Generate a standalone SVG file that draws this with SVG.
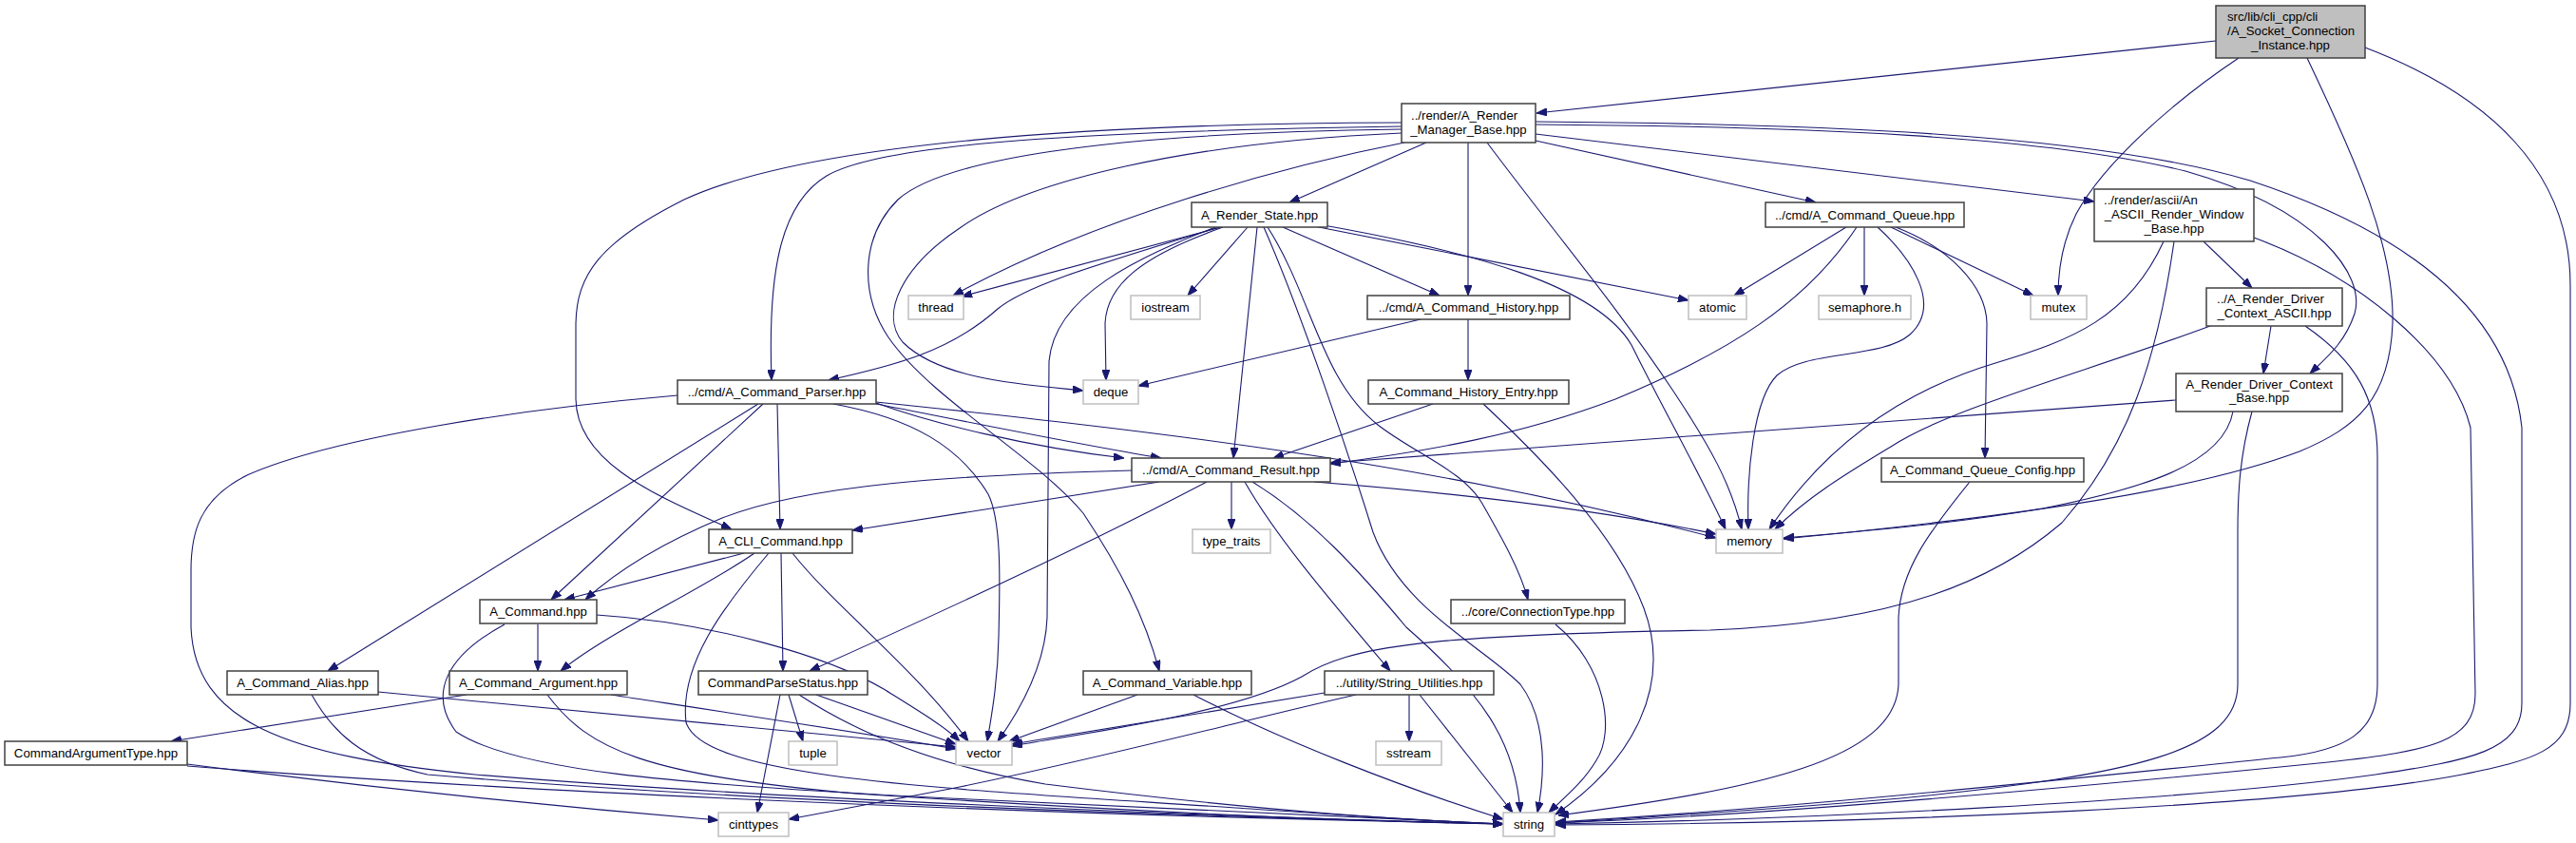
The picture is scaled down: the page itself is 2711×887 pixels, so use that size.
<svg xmlns="http://www.w3.org/2000/svg" width="2711" height="887" viewBox="0 0 2711 887">
<defs>
<marker id="a" viewBox="0 0 11 8" refX="11" refY="4" markerWidth="11" markerHeight="8" markerUnits="userSpaceOnUse" orient="auto"><path d="M0,0 L11,4 L0,8 z" fill="#191970" stroke="#191970" stroke-width="1"/></marker>
<style>
.n rect{fill:#fff;stroke:#404040;stroke-width:1.5}
.r rect{fill:#bfbfbf;stroke:#404040;stroke-width:1.5}
.x rect{fill:#fff;stroke:#bfbfbf;stroke-width:1.5}
text{font-family:"Liberation Sans",Arial,Helvetica,sans-serif;font-size:13.2px;fill:#000;text-anchor:middle}
text.s{text-anchor:start}
#edges path{fill:none;stroke:#191970;stroke-width:1.1;marker-end:url(#a)}
</style>
</defs>
<rect width="2711" height="887" fill="#fff"/>
<g id="edges">
<path d="M2332,43 L1617,119"/>
<path d="M2356,61 C2290,105 2215,170 2185,225 C2170,255 2166,285 2166,311"/>
<path d="M2428,61 C2480,170 2520,260 2518,340 C2515,420 2480,450 2420,475 C2300,520 2100,545 1877,567"/>
<path d="M2489,50 C2620,100 2705,180 2705,300 L2705,740 C2705,790 2665,800 2591,815 C2420,848 2000,866 1637,868"/>
<path d="M1501,150 L1357,213"/>
<path d="M1545,150 L1545,311"/>
<path d="M1565,150 C1640,250 1700,320 1760,410 C1800,470 1822,510 1833,557"/>
<path d="M1616,148 L1911,213"/>
<path d="M1616,141 L2204,212"/>
<path d="M1616,131 C1900,133 2150,143 2300,180 C2440,220 2490,290 2478,330 C2468,360 2450,375 2431,393"/>
<path d="M1616,128 C1900,130 2200,140 2368,190 C2520,240 2640,320 2654,450 L2654,740 C2654,790 2600,800 2500,815 C2300,843 1900,862 1637,867"/>
<path d="M1475,133 C1150,138 930,150 870,185 C820,215 808,290 812,400"/>
<path d="M1475,129 C1150,130 850,150 720,210 C630,255 607,290 606,340 L606,420 C607,490 700,525 770,557"/>
<path d="M1475,136 C1150,140 990,170 945,210 C905,250 905,310 935,355 C980,420 1090,480 1140,540 C1180,600 1205,650 1220,706"/>
<path d="M1475,140 C1250,150 1080,190 1010,240 C950,280 925,330 950,360 C990,400 1080,405 1140,411"/>
<path d="M1478,150 C1350,175 1150,230 1003,311"/>
<path d="M1285,239 L1012,312"/>
<path d="M1283,239 C1150,280 1080,300 1050,325 C1000,370 940,385 872,400"/>
<path d="M1287,239 C1200,270 1165,300 1163,340 L1164,400"/>
<path d="M1279,239 C1200,270 1110,310 1104,380 L1102,650 C1100,700 1075,745 1050,780"/>
<path d="M1313,239 L1250,311"/>
<path d="M1323,239 L1298,482"/>
<path d="M1330,239 C1370,330 1420,480 1445,560 C1475,640 1560,680 1600,720 C1630,760 1625,820 1618,855"/>
<path d="M1334,239 C1380,310 1390,400 1450,447 C1490,478 1540,495 1560,530 C1580,565 1600,600 1608,631"/>
<path d="M1350,239 L1515,311"/>
<path d="M1383,238 L1777,316"/>
<path d="M1393,237 C1550,265 1680,300 1717,363 C1750,430 1790,500 1816,557"/>
<path d="M1943,239 L1825,311"/>
<path d="M1962,239 L1962,311"/>
<path d="M1990,239 L2140,311"/>
<path d="M1976,239 C2010,270 2045,320 2010,352 C1980,378 1900,368 1870,395 C1845,420 1838,500 1840,557"/>
<path d="M1954,239 C1900,320 1820,370 1700,420 C1600,458 1500,475 1400,488"/>
<path d="M1995,239 C2050,260 2090,300 2091,340 L2089,482"/>
<path d="M2319,254 L2370,303"/>
<path d="M2277,254 C2240,335 2180,358 2100,382 C2000,412 1920,470 1862,557"/>
<path d="M2288,254 C2270,380 2240,470 2170,550 C2100,610 2000,655 1800,663 C1500,668 1420,680 1370,712 C1300,750 1150,770 1065,785"/>
<path d="M2372,250 C2480,290 2580,370 2600,450 L2605,730 C2605,780 2560,790 2450,802 C2250,822 1900,856 1637,866"/>
<path d="M2390,343 L2382,393"/>
<path d="M2326,343 C2200,390 2050,430 1990,470 C1940,500 1900,525 1868,557"/>
<path d="M2426,343 C2480,380 2502,420 2502,480 L2502,720 C2502,770 2470,790 2400,797 C2250,812 1900,850 1637,865"/>
<path d="M2290,421 L1400,487"/>
<path d="M2350,433 C2340,490 2250,515 2150,535 C2050,552 1950,560 1877,566"/>
<path d="M2370,433 C2357,480 2355,520 2355,560 L2355,720 C2355,790 2250,815 2000,840 C1850,853 1700,862 1637,866"/>
<path d="M1545,336 L1545,400"/>
<path d="M1495,336 L1198,406"/>
<path d="M1508,425 L1340,482"/>
<path d="M1561,425 C1620,480 1700,560 1730,640 C1760,720 1720,800 1637,857"/>
<path d="M798,425 L345,706"/>
<path d="M803,425 L580,631"/>
<path d="M818,425 L821,557"/>
<path d="M877,425 C960,440 1010,470 1040,520 C1055,550 1052,620 1051,670 C1050,720 1043,755 1039,780"/>
<path d="M922,424 C980,445 1080,470 1183,482"/>
<path d="M922,425 C1000,440 1120,465 1222,482"/>
<path d="M922,423 C1200,452 1500,485 1806,566"/>
<path d="M713,416 C550,430 350,460 260,500 C210,525 201,560 201,600 L201,660 C205,760 300,795 500,815 C800,840 1300,860 1582,867"/>
<path d="M1191,495 C1000,500 850,510 760,545 C700,570 650,600 616,631"/>
<path d="M1220,507 L897,558"/>
<path d="M1296,507 L1296,557"/>
<path d="M1270,507 C1150,570 1000,640 852,706"/>
<path d="M1383,507 C1550,520 1700,540 1806,562"/>
<path d="M1310,507 C1340,560 1390,620 1463,706"/>
<path d="M1318,507 C1380,545 1430,600 1480,660 C1560,730 1595,780 1600,855"/>
<path d="M2073,507 C2030,560 2000,600 1998,650 L1998,720 C1995,800 1850,830 1640,858"/>
<path d="M783,582 L594,631"/>
<path d="M794,582 C740,620 640,665 590,706"/>
<path d="M822,582 L824,706"/>
<path d="M834,582 C880,640 960,700 1019,780"/>
<path d="M809,582 C760,640 715,700 722,760 C740,820 1000,830 1300,850 C1450,860 1520,865 1582,867"/>
<path d="M1637,657 C1690,700 1700,770 1680,800 C1665,825 1645,840 1630,855"/>
<path d="M566,657 L566,706"/>
<path d="M628,647 C750,655 870,690 930,725 C970,750 995,765 1010,780"/>
<path d="M531,657 C470,690 450,730 480,770 C540,810 700,825 1000,840 C1300,855 1500,865 1582,867"/>
<path d="M398,728 L1006,786"/>
<path d="M328,731 C350,770 380,800 450,815 C800,845 1300,860 1582,867"/>
<path d="M491,731 L180,780"/>
<path d="M643,731 C800,755 900,770 1006,788"/>
<path d="M576,731 C620,790 680,815 900,835 C1200,855 1450,865 1582,867"/>
<path d="M197,804 C400,830 600,850 756,863"/>
<path d="M197,806 C500,830 1000,855 1582,867"/>
<path d="M830,731 L845,780"/>
<path d="M821,731 L797,855"/>
<path d="M859,731 L1006,783"/>
<path d="M841,731 C900,770 980,805 1100,825 C1300,850 1450,862 1582,867"/>
<path d="M1197,731 L1062,780"/>
<path d="M1256,731 C1350,780 1480,830 1582,862"/>
<path d="M1483,731 L1483,780"/>
<path d="M1494,731 L1592,855"/>
<path d="M1394,729 L1065,783"/>
<path d="M1427,731 C1300,760 1150,800 1000,830 C920,845 870,855 830,862"/>
</g>
<g id="node-socket" class="r"><rect x="2332" y="6" width="157" height="55"/><text class="s" x="2344" y="22">src/lib/cli_cpp/cli</text><text class="s" x="2344" y="37">/A_Socket_Connection</text><text x="2410.5" y="51.5">_Instance.hpp</text></g>
<g id="node-render-manager-base" class="n"><rect x="1475" y="109" width="141" height="41"/><text class="s" x="1485" y="126.3">../render/A_Render</text><text x="1545.5" y="141.3">_Manager_Base.hpp</text></g>
<g id="node-render-state" class="n"><rect x="1254" y="213" width="143" height="26"/><text x="1325.5" y="230.5">A_Render_State.hpp</text></g>
<g id="node-command-queue" class="n"><rect x="1858" y="213" width="209" height="26"/><text x="1962.5" y="230.5">../cmd/A_Command_Queue.hpp</text></g>
<g id="node-ascii-window" class="n"><rect x="2204" y="199" width="168" height="55"/><text class="s" x="2214" y="215.4">../render/ascii/An</text><text x="2288" y="230.4">_ASCII_Render_Window</text><text x="2288" y="244.7">_Base.hpp</text></g>
<g id="node-thread" class="x"><rect x="956" y="311" width="58" height="25"/><text x="985" y="328.2">thread</text></g>
<g id="node-iostream" class="x"><rect x="1190" y="311" width="73" height="25"/><text x="1226.5" y="328.2">iostream</text></g>
<g id="node-command-history" class="n"><rect x="1439" y="311" width="213" height="25"/><text x="1545.5" y="328.2">../cmd/A_Command_History.hpp</text></g>
<g id="node-atomic" class="x"><rect x="1777" y="311" width="61" height="25"/><text x="1807.5" y="328.2">atomic</text></g>
<g id="node-semaphore" class="x"><rect x="1914" y="311" width="97" height="25"/><text x="1962.5" y="328.2">semaphore.h</text></g>
<g id="node-mutex" class="x"><rect x="2137" y="311" width="59" height="25"/><text x="2166.5" y="328.2">mutex</text></g>
<g id="node-driver-context-ascii" class="n"><rect x="2322" y="303" width="143" height="40"/><text class="s" x="2333" y="319">../A_Render_Driver</text><text x="2393.5" y="334">_Context_ASCII.hpp</text></g>
<g id="node-deque" class="x"><rect x="1140" y="400" width="58" height="25"/><text x="1169" y="417.2">deque</text></g>
<g id="node-command-parser" class="n"><rect x="713" y="400" width="209" height="25"/><text x="817.5" y="417.2">../cmd/A_Command_Parser.hpp</text></g>
<g id="node-command-history-entry" class="n"><rect x="1440" y="400" width="211" height="25"/><text x="1545.5" y="417.2">A_Command_History_Entry.hpp</text></g>
<g id="node-driver-context-base" class="n"><rect x="2290" y="393" width="175" height="40"/><text x="2377.5" y="409">A_Render_Driver_Context</text><text x="2377.5" y="423">_Base.hpp</text></g>
<g id="node-command-result" class="n"><rect x="1191" y="482" width="209" height="25"/><text x="1295.5" y="499.2">../cmd/A_Command_Result.hpp</text></g>
<g id="node-command-queue-config" class="n"><rect x="1980" y="482" width="213" height="25"/><text x="2086.5" y="499.2">A_Command_Queue_Config.hpp</text></g>
<g id="node-memory" class="x"><rect x="1806" y="557" width="70" height="25"/><text x="1841" y="574.2">memory</text></g>
<g id="node-cli-command" class="n"><rect x="746" y="557" width="151" height="25"/><text x="821.5" y="574.2">A_CLI_Command.hpp</text></g>
<g id="node-type-traits" class="x"><rect x="1255" y="557" width="82" height="25"/><text x="1296" y="574.2">type_traits</text></g>
<g id="node-connection-type" class="n"><rect x="1527" y="631" width="183" height="25"/><text x="1618.5" y="648.2">../core/ConnectionType.hpp</text></g>
<g id="node-command" class="n"><rect x="505" y="631" width="123" height="25"/><text x="566.5" y="648.2">A_Command.hpp</text></g>
<g id="node-command-alias" class="n"><rect x="239" y="706" width="159" height="25"/><text x="318.5" y="723.2">A_Command_Alias.hpp</text></g>
<g id="node-command-argument" class="n"><rect x="473" y="706" width="187" height="25"/><text x="566.5" y="723.2">A_Command_Argument.hpp</text></g>
<g id="node-parse-status" class="n"><rect x="735" y="706" width="178" height="25"/><text x="824" y="723.2">CommandParseStatus.hpp</text></g>
<g id="node-command-variable" class="n"><rect x="1140" y="706" width="177" height="25"/><text x="1228.5" y="723.2">A_Command_Variable.hpp</text></g>
<g id="node-string-utilities" class="n"><rect x="1394" y="706" width="178" height="25"/><text x="1483" y="723.2">../utility/String_Utilities.hpp</text></g>
<g id="node-argument-type" class="n"><rect x="5" y="780" width="192" height="25"/><text x="101" y="797.2">CommandArgumentType.hpp</text></g>
<g id="node-tuple" class="x"><rect x="830" y="780" width="51" height="25"/><text x="855.5" y="797.2">tuple</text></g>
<g id="node-vector" class="x"><rect x="1006" y="780" width="59" height="25"/><text x="1035.5" y="797.2">vector</text></g>
<g id="node-sstream" class="x"><rect x="1448" y="780" width="69" height="25"/><text x="1482.5" y="797.2">sstream</text></g>
<g id="node-cinttypes" class="x"><rect x="756" y="855" width="74" height="25"/><text x="793" y="872.2">cinttypes</text></g>
<g id="node-string" class="x"><rect x="1582" y="855" width="54" height="25"/><text x="1609" y="872.2">string</text></g>
</svg>
